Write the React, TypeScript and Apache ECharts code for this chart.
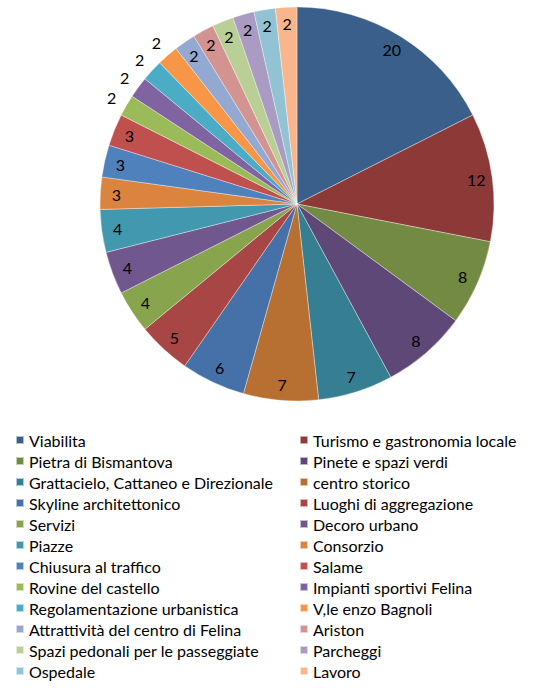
import React, { useEffect, useRef } from "react";
import * as echarts from "echarts";

const categories = [
  "Viabilita",
  "Turismo e gastronomia locale",
  "Pietra di Bismantova",
  "Pinete e spazi verdi",
  "Grattacielo, Cattaneo e Direzionale",
  "centro storico",
  "Skyline architettonico",
  "Luoghi di aggregazione",
  "Servizi",
  "Decoro urbano",
  "Piazze",
  "Consorzio",
  "Chiusura al traffico",
  "Salame",
  "Rovine del castello",
  "Impianti sportivi Felina",
  "Regolamentazione urbanistica",
  "V,le enzo Bagnoli",
  "Attrattività del centro di Felina",
  "Ariston",
  "Spazi pedonali per le passeggiate",
  "Parcheggi",
  "Ospedale",
  "Lavoro",
];

const values = [20, 12, 8, 8, 7, 7, 6, 5, 4, 4, 4, 3, 3, 3, 2, 2, 2, 2, 2, 2, 2, 2, 2, 2];

const colors = [
  "#3A5F8B", "#8C3937", "#738A42", "#5E4878", "#367F93", "#B86F32",
  "#4571A8", "#A74644", "#88A54D", "#70588F", "#4198AF", "#DB843D",
  "#4F81BD", "#C0504D", "#9BBB59", "#8064A2", "#4BACC6", "#F79646",
  "#94A9D2", "#D39391", "#B9CF96", "#A99BC2", "#92C3D4", "#F9B58C",
];

const outsideLabels = [
  "Rovine del castello",
  "Impianti sportivi Felina",
  "Regolamentazione urbanistica",
  "V,le enzo Bagnoli",
];

const FONT = "Lato";

export default function App() {
  const ref = useRef<HTMLDivElement>(null);

  useEffect(() => {
    if (!ref.current) return;
    const chart = echarts.init(ref.current, undefined, { renderer: "svg" });
    const center = [297, 204];
    const R = 197;

    const mainData = categories.map((name, i) => ({
      name,
      value: values[i],
      itemStyle: { color: colors[i] },
    }));

    const overlay = (inside: boolean) =>
      categories.map((name, i) => {
        const isOut = outsideLabels.includes(name);
        return {
          name,
          value: values[i],
          itemStyle: { color: "rgba(0,0,0,0)", borderWidth: 0 },
          label: { show: inside ? !isOut : isOut },
        };
      });

    const labelStyle = {
      position: "inside",
      formatter: "{c}",
      color: "#000",
      fontFamily: FONT,
      fontSize: 16,
    };

    const legendBase = {
      orient: "vertical",
      top: 431,
      height: 257,
      padding: 0,
      icon: "rect",
      itemWidth: 8,
      itemHeight: 8,
      itemGap: 3,
      selectedMode: false,
      textStyle: { fontFamily: FONT, fontSize: 16, color: "#000", lineHeight: 18 },
    };

    chart.setOption({
      animation: false,
      backgroundColor: "#fff",
      legend: [
        { ...legendBase, left: 15, data: categories.filter((_, i) => i % 2 === 0) },
        { ...legendBase, left: 299, data: categories.filter((_, i) => i % 2 === 1) },
      ],
      series: [
        {
          type: "pie",
          name: "main",
          center,
          radius: [0, R],
          startAngle: 90,
          clockwise: true,
          avoidLabelOverlap: false,
          label: { show: false },
          labelLine: { show: false },
          itemStyle: { borderColor: "rgba(255,255,255,0.6)", borderWidth: 0.6 },
          emphasis: { disabled: true },
          data: mainData,
        },
        {
          type: "pie",
          name: "labelsIn",
          center,
          radius: [159, R],
          startAngle: 90,
          clockwise: true,
          silent: true,
          avoidLabelOverlap: false,
          label: labelStyle,
          labelLine: { show: false },
          emphasis: { disabled: true },
          data: overlay(true),
        },
        {
          type: "pie",
          name: "labelsOut",
          center,
          radius: [200, 222],
          startAngle: 90,
          clockwise: true,
          silent: true,
          avoidLabelOverlap: false,
          label: labelStyle,
          labelLine: { show: false },
          emphasis: { disabled: true },
          data: overlay(false),
        },
      ],
    });

    return () => chart.dispose();
  }, []);

  return (
    <div
      ref={ref}
      style={{ position: "absolute", left: 0, top: 0, width: 537, height: 688 }}
    />
  );
}
